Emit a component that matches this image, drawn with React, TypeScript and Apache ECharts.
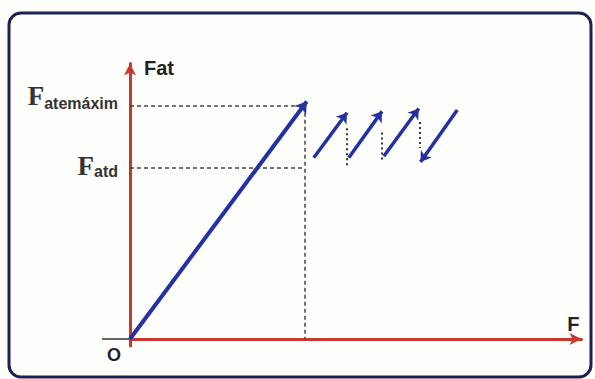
import React, { useEffect, useRef } from "react";
import * as echarts from "echarts";

// Axis extents (abstract force units)
const X_MAX = 12.9;
const Y_MIN = -0.25;
const Y_MAX = 9.8;

// Key levels
const F_BREAK = 5.0; // applied force where static friction breaks
const FAT_MAX = 8.3; // maximum static friction
const FAT_D = 6.1; // kinetic friction

const yTickValues = [FAT_D, FAT_MAX];
const yTickSubs = ["atd", "atemáxim"];
const yTickStyles = ["d", "m"];

// Static friction growing linearly with applied force
const mainLine = [
  [0, 0],
  [5.05, 8.45],
];

// Stick-slip teeth (start -> end, arrow at end)
const teeth = [
  [[5.25, 6.45], [6.2, 8.05]],
  [[6.25, 6.45], [7.2, 8.1]],
  [[7.25, 6.5], [8.25, 8.2]],
  [[9.35, 8.15], [8.3, 6.3]],
];

// Dotted drops between teeth
const drops = [
  [[6.2, 7.5], [6.2, 6.12]],
  [[7.2, 7.35], [7.2, 6.3]],
  [[8.27, 7.72], [8.27, 6.8]],
];

// Guide lines
const guides = [
  [[0, FAT_MAX], [F_BREAK, FAT_MAX]],
  [[0, FAT_D], [F_BREAK, FAT_D]],
  [[F_BREAK, FAT_MAX], [F_BREAK, 0]],
];

const stub = [[-0.8, 0], [0, 0]];

const BLUE = "#2431a3";
const RED = "#c8382e";

export default function App() {
  const ref = useRef<HTMLDivElement>(null);
  useEffect(() => {
    const chart = echarts.init(ref.current!, null, { renderer: "svg" });
    const toLines = (arr: number[][][]) => arr.map((c) => ({ coords: c }));
    const fStyle = {
      fontFamily: "Liberation Serif",
      fontWeight: "bold",
      fontSize: 27,
      color: "#333",
      lineHeight: 24,
      verticalAlign: "bottom",
    };
    const sStyle = {
      fontFamily: "Liberation Sans",
      fontWeight: "bold",
      fontSize: 16,
      color: "#333",
      lineHeight: 17,
      verticalAlign: "bottom",
    };
    chart.setOption({
      animation: false,
      backgroundColor: "#fefefc",
      grid: { left: 130, right: 13.5, top: 63.6, bottom: 33 },
      xAxis: {
        type: "value",
        min: 0,
        max: X_MAX,
        splitLine: { show: false },
        axisTick: { show: false },
        axisLabel: { show: false },
        axisLine: {
          onZero: true,
          symbol: ["none", "arrow"],
          symbolSize: [9, 12],
          lineStyle: { color: RED, width: 3 },
        },
        name: "F",
        nameLocation: "end",
        nameGap: -2,
        nameTextStyle: {
          color: "#222",
          fontFamily: "Liberation Sans",
          fontWeight: "bold",
          fontSize: 20,
          align: "right",
          verticalAlign: "bottom",
          padding: [0, 0, 5, 0],
        },
      },
      yAxis: {
        type: "value",
        min: Y_MIN,
        max: Y_MAX,
        splitLine: { show: false },
        axisTick: { show: false },
        axisLine: {
          onZero: true,
          symbol: ["none", "arrow"],
          symbolSize: [9, 12],
          lineStyle: { color: RED, width: 3 },
        },
        axisLabel: {
          customValues: yTickValues,
          margin: 12,
          verticalAlign: "middle",
          formatter: (v: number) => {
            const i = yTickValues.indexOf(v);
            const k = yTickStyles[i];
            return "{f" + k + "|F}{s" + k + "|" + yTickSubs[i] + "}";
          },
          rich: {
            fm: { ...fStyle, padding: [0, 0, 8, 0] },
            sm: { ...sStyle, padding: [0, 0, 6, 0] },
            fd: { ...fStyle, padding: [0, 0, 0, 0] },
            sd: { ...sStyle, padding: [0, 0, 0, 0] },
          },
        },
        name: "Fat",
        nameLocation: "end",
        nameGap: -4,
        nameTextStyle: {
          color: "#222",
          fontFamily: "Liberation Sans",
          fontWeight: "bold",
          fontSize: 20,
          align: "left",
          verticalAlign: "middle",
          padding: [0, 0, 0, 14],
        },
      },
      graphic: [
        {
          type: "rect",
          shape: { x: 9, y: 13, width: 582, height: 364, r: 12 },
          style: { fill: "none", stroke: "#1d2152", lineWidth: 3 },
          silent: true,
        },
        {
          type: "text",
          x: 107,
          y: 346,
          style: {
            text: "O",
            fontFamily: "Liberation Sans",
            fontWeight: "bold",
            fontSize: 18,
            fill: "#222",
          },
        },
      ],
      series: [
        {
          type: "lines",
          coordinateSystem: "cartesian2d",
          clip: false,
          symbol: "none",
          lineStyle: { color: "#666", width: 2, opacity: 1 },
          data: toLines([stub]),
        },
        {
          type: "lines",
          coordinateSystem: "cartesian2d",
          symbol: "none",
          lineStyle: { color: "#444", width: 1.5, type: [4, 3], opacity: 1 },
          data: toLines(guides),
        },
        {
          type: "lines",
          coordinateSystem: "cartesian2d",
          symbol: "none",
          lineStyle: { color: "#333", width: 2, type: [2, 3], opacity: 1 },
          data: toLines(drops),
        },
        {
          type: "lines",
          coordinateSystem: "cartesian2d",
          symbol: ["none", "arrow"],
          symbolSize: 11,
          lineStyle: { color: BLUE, width: 4, opacity: 1 },
          data: toLines([mainLine]),
        },
        {
          type: "lines",
          coordinateSystem: "cartesian2d",
          symbol: ["none", "arrow"],
          symbolSize: 10,
          lineStyle: { color: BLUE, width: 3.5, opacity: 1 },
          data: toLines(teeth),
        },
      ],
    });
    return () => chart.dispose();
  }, []);
  return (
    <div
      ref={ref}
      style={{ position: "fixed", left: 0, top: 0, width: 595, height: 379 }}
    />
  );
}
